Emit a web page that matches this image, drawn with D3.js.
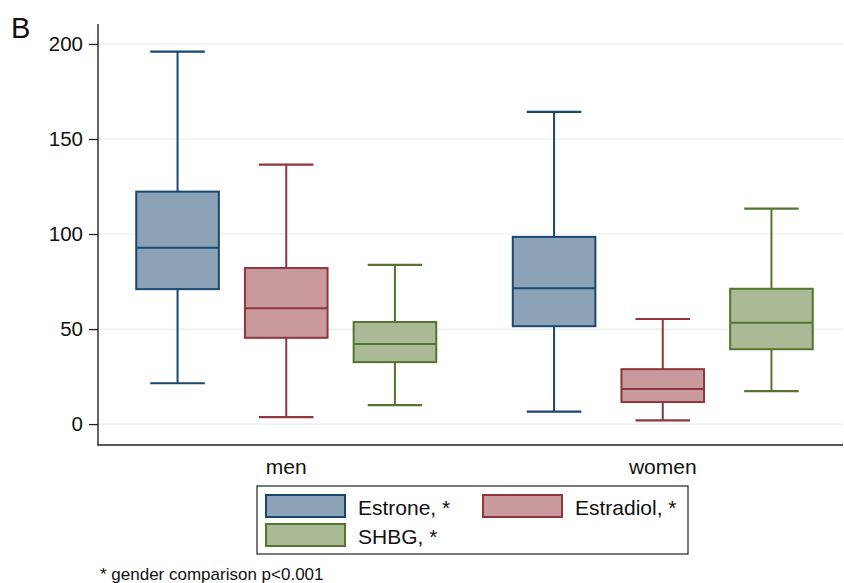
<!DOCTYPE html>
<html><head><meta charset="utf-8">
<script src="https://cdn.jsdelivr.net/npm/d3@7"></script>
<style>
body{margin:0;background:#fff;}
text{font-family:"Liberation Sans",Arial,Helvetica,sans-serif;}
</style></head>
<body><svg id="c" width="844" height="583"></svg>
<script>
const groups = ["men","women"];
const series = ["Estrone, *","Estradiol, *","SHBG, *"];
// [lower whisker, Q1, median, Q3, upper whisker]
const estrone  = [[21.5,71,92.8,122.3,196],[6.6,51.5,71.5,98.5,164.3]];
const estradiol= [[3.7,45.4,61,82.1,136.5],[2.0,11.6,18.5,28.9,55.3]];
const shbg     = [[10,32.6,42.1,53.7,83.8],[17.3,39.4,53.3,71.2,113.4]];
const yTicks = [0,50,100,150,200];
const strokeColors = ["#1a476f","#90353b","#55752f"];
const fillColors = ["#8ca3b7","#c89a9d","#aaba97"];
const panelLabel = "B";
const footnote = "* gender comparison p<0.001";

const values = [estrone, estradiol, shbg];
const svg = d3.select("#c");
const L = 98, R = 843, T = 24, B = 445;

const y = d3.scaleLinear().domain([-11, 210.5]).range([B, T]);
const x0 = d3.scaleBand().domain(groups).range([L, R + 8]);
const x1 = d3.scaleBand().domain(series).range([-150, 150]).paddingInner(0.24);

// gridlines
svg.append("g").selectAll("line").data(yTicks).join("line")
  .attr("x1", L).attr("x2", R).attr("y1", d=>y(d)).attr("y2", d=>y(d))
  .attr("stroke", "#e4edf0").attr("stroke-width", 1.2);

// y axis
const yAxis = d3.axisLeft(y).tickValues(yTicks).tickSize(9).tickPadding(6);
const ya = svg.append("g").attr("transform", `translate(${L},0)`).call(yAxis);
ya.select(".domain").remove();
ya.selectAll(".tick line").attr("stroke", "#222").attr("stroke-width", 1.3);
ya.selectAll(".tick text").attr("font-size", 20.5).attr("fill", "#111")
  .attr("font-family", "Liberation Sans, Arial, sans-serif");
svg.append("line").attr("x1", L).attr("x2", L).attr("y1", T).attr("y2", B)
  .attr("stroke", "#222").attr("stroke-width", 1.4);
svg.append("line").attr("x1", L - 0.7).attr("x2", R).attr("y1", B).attr("y2", B)
  .attr("stroke", "#222").attr("stroke-width", 1.6);

// group labels
svg.append("g").selectAll("text").data(groups).join("text")
  .attr("x", d => x0(d) + x0.bandwidth()/2).attr("y", 474)
  .attr("text-anchor", "middle").attr("font-size", 21).attr("fill", "#111").text(d=>d);

// boxes
const bw = x1.bandwidth();
const capW = bw * 0.66;
series.forEach((s, si) => {
  groups.forEach((g, gi) => {
    const v = values[si][gi];
    const cx = x0(g) + x0.bandwidth()/2 + x1(s) + bw/2;
    const gg = svg.append("g");
    const st = strokeColors[si];
    gg.append("line").attr("x1", cx).attr("x2", cx).attr("y1", y(v[3])).attr("y2", y(v[4]))
      .attr("stroke", st).attr("stroke-width", 2);
    gg.append("line").attr("x1", cx).attr("x2", cx).attr("y1", y(v[1])).attr("y2", y(v[0]))
      .attr("stroke", st).attr("stroke-width", 2);
    [v[0], v[4]].forEach(w => gg.append("line").attr("x1", cx - capW/2).attr("x2", cx + capW/2)
      .attr("y1", y(w)).attr("y2", y(w)).attr("stroke", st).attr("stroke-width", 2.2));
    gg.append("rect").attr("x", cx - bw/2).attr("width", bw)
      .attr("y", y(v[3])).attr("height", y(v[1]) - y(v[3]))
      .attr("fill", fillColors[si]).attr("stroke", st).attr("stroke-width", 2);
    gg.append("line").attr("x1", cx - bw/2).attr("x2", cx + bw/2).attr("y1", y(v[2])).attr("y2", y(v[2]))
      .attr("stroke", st).attr("stroke-width", 2);
  });
});

// legend
const lg = svg.append("g");
lg.append("rect").attr("x", 257).attr("y", 486).attr("width", 431).attr("height", 68)
  .attr("fill", "#fff").attr("stroke", "#222").attr("stroke-width", 1.2);
const legPos = [[266,495],[483,495],[266,524]];
series.forEach((s, i) => {
  const [lx, ly] = legPos[i];
  lg.append("rect").attr("x", lx).attr("y", ly).attr("width", 79).attr("height", 22)
    .attr("fill", fillColors[i]).attr("stroke", strokeColors[i]).attr("stroke-width", 2);
  lg.append("text").attr("x", lx + 92).attr("y", ly + 19.5).attr("font-size", 21)
    .attr("fill", "#111").text(s);
});

svg.append("text").attr("x", 11).attr("y", 37.5).attr("font-size", 29).attr("fill", "#111").text(panelLabel);
svg.append("text").attr("x", 100).attr("y", 580).attr("font-size", 17).attr("fill", "#111").text(footnote);
</script></body></html>
